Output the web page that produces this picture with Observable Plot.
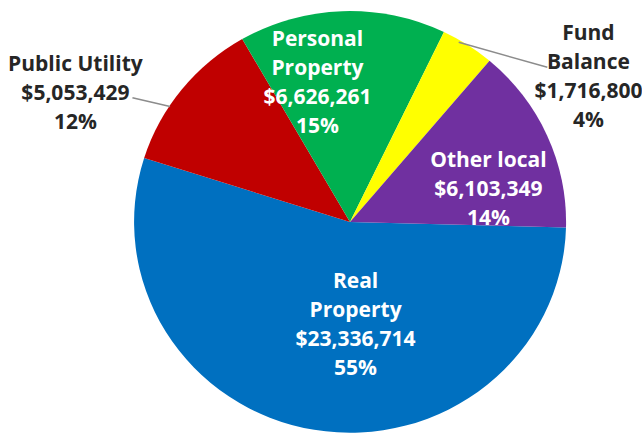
<!DOCTYPE html>
<html>
<head>
<meta charset="utf-8">
<script src="https://cdn.jsdelivr.net/npm/d3@7"></script>
<script src="https://cdn.jsdelivr.net/npm/@observablehq/plot@0.6"></script>
<style>
  html, body { margin: 0; padding: 0; background: #ffffff; }
  #chart svg { display: block; }
</style>
</head>
<body>
<div id="chart"></div>
<script>
// ---- data ----
const categories = ["Real Property", "Public Utility", "Personal Property", "Fund Balance", "Other local"];
const values = [23336714, 5053429, 6626261, 1716800, 6103349];
const nameLabels = ["Real\nProperty", "Public Utility", "Personal\nProperty", "Fund\nBalance", "Other local"];
const amountLabels = ["$23,336,714", "$5,053,429", "$6,626,261", "$1,716,800", "$6,103,349"];
const percentLabels = ["55%", "12%", "15%", "4%", "14%"];
const colors = ["#0070C0", "#C00000", "#00B050", "#FFFF00", "#7030A0"];

// ---- layout ----
const W = 642, H = 435;
const CX = 350, CY = 222, RX = 216, RY = 211;
const deg = Math.PI / 180;
const startDeg = 91.5;
// label placement: radius (pie radii) and angle offset (deg) from slice mid-angle
const labelLayout = {
  "Real Property":     {r: 0.474, da: -12.4, inside: true},
  "Public Utility":    {r: 1.419, da: -12.7, inside: false},
  "Personal Property": {r: 0.690, da: -10.75, inside: true},
  "Fund Balance":      {r: 1.306, da: 24.5, inside: false},
  "Other local":       {r: 0.661, da: 9.1, inside: true}
};
const leaderLayout = {
  "Public Utility": {r1: 1.17, da1: -8.5, r2: 1.0, da2: -5.5},
  "Fund Balance":   {r1: 1.171, da1: 18.1, r2: 0.99, da2: -2.6}
};

const rows = categories.map((c, i) => ({
  category: c, value: values[i],
  text: nameLabels[i] + "\n" + amountLabels[i] + "\n" + percentLabels[i]
}));
const pie = d3.pie().sort(null).value(d => d.value)
  .startAngle(startDeg * deg).endAngle(startDeg * deg + 2 * Math.PI);
const arcs = pie(rows);
const color = d3.scaleOrdinal().domain(categories).range(colors);
const polar = (a, r) => [r * Math.sin(a), r * Math.cos(a)];

const labels = arcs.map(a => {
  const mid = (a.startAngle + a.endAngle) / 2;
  const L = labelLayout[a.data.category];
  const [x, y] = polar(mid + L.da * deg, L.r);
  return {x, y, text: a.data.text, inside: L.inside};
});
const leaders = arcs.filter(a => leaderLayout[a.data.category]).map(a => {
  const mid = (a.startAngle + a.endAngle) / 2;
  const L = leaderLayout[a.data.category];
  const [x1, y1] = polar(mid + L.da1 * deg, L.r1);
  const [x2, y2] = polar(mid + L.da2 * deg, L.r2);
  return {x1, y1, x2, y2};
});

function slices(index, scales) {
  const x = scales.x, y = scales.y;
  const g = d3.create("svg:g");
  const arcGen = d3.arc().innerRadius(0).outerRadius(1);
  const sx = x(1) - x(0), sy = y(-1) - y(0);
  g.selectAll("path").data(arcs).join("path")
    .attr("d", arcGen)
    .attr("fill", d => color(d.data.category))
    .attr("transform", `translate(${x(0)},${y(0)}) scale(${sx},${sy})`);
  return g.node();
}

const textOpts = {
  x: "x", y: "y", text: "text",
  fontSize: 21, fontWeight: "bold", fontFamily: "'Open Sans', sans-serif",
  lineHeight: 1.38, textAnchor: "middle"
};

const chart = Plot.plot({
  width: W, height: H,
  margin: 0,
  x: {domain: [-CX / RX, (W - CX) / RX], axis: null},
  y: {domain: [-(H - CY) / RY, CY / RY], axis: null},
  style: {background: "#ffffff", overflow: "visible"},
  marks: [
    slices,
    Plot.link(leaders, {x1: "x1", y1: "y1", x2: "x2", y2: "y2", stroke: "#8c8c8c", strokeWidth: 1.5}),
    Plot.text(labels.filter(d => d.inside), {...textOpts, fill: "#ffffff"}),
    Plot.text(labels.filter(d => !d.inside), {...textOpts, fill: "#262626"})
  ]
});
document.getElementById("chart").appendChild(chart);
</script>
</body>
</html>
